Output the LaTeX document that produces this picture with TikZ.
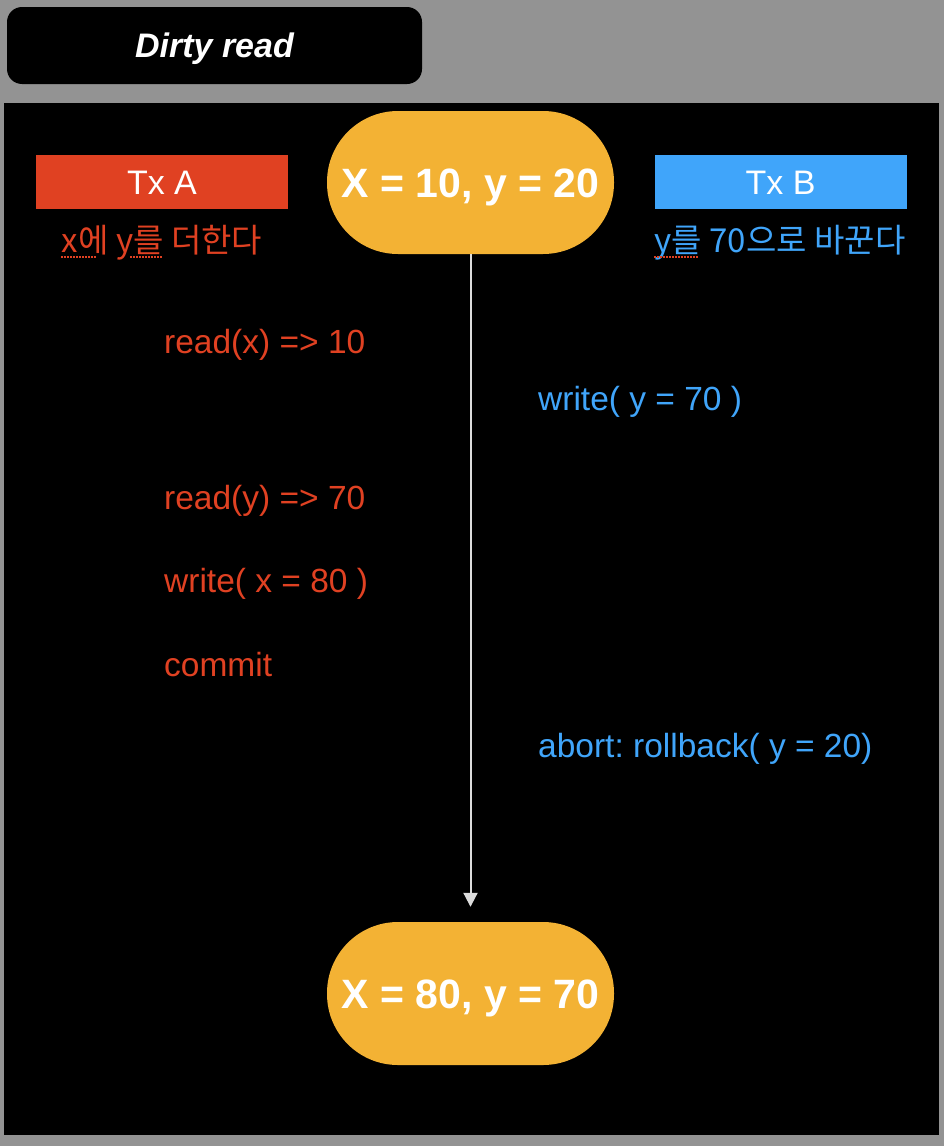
\documentclass[tikz,border=0pt]{standalone}
\usepackage{fontspec}
\setmainfont{Liberation Sans}
\newfontfamily\kr{Noto Sans CJK KR}
\usetikzlibrary{arrows.meta}
\frenchspacing
\definecolor{bggray}{RGB}{147,147,147}
\definecolor{txred}{RGB}{224,65,34}
\definecolor{txblue}{RGB}{64,165,250}
\definecolor{stateorange}{RGB}{243,178,52}
\definecolor{arrowgray}{RGB}{220,220,220}
\tikzset{
  statebox/.style={fill=stateorange, rounded corners=71pt, minimum width=287pt, minimum height=143pt, inner sep=0pt, text height=29.5pt, text depth=0pt, text=white, font=\fontsize{41}{41}\selectfont\bfseries},
  txhead/.style={minimum width=252pt, minimum height=54pt, inner sep=0pt, text height=24.5pt, text depth=0pt, text=white, font=\fontsize{34}{34}\selectfont},
  txsub/.style={anchor=base, inner sep=0pt, font=\kr\fontsize{33}{33}\selectfont},
  opA/.style={anchor=base west, inner sep=0pt, text=txred, font=\fontsize{33.5}{33.5}\selectfont},
  opB/.style={anchor=base west, inner sep=0pt, text=txblue, font=\fontsize{33.5}{33.5}\selectfont},
  spell/.style={draw=txred, line width=1.2pt, dash pattern=on 1.5pt off 1.5pt},
  flow/.style={draw=arrowgray, line width=2pt, -{Triangle[width=14pt,length=14pt]}}
}
\begin{document}
\begin{tikzpicture}[x=1pt,y=-1pt]
  \fill[bggray] (0,0) rectangle (944,1146);
  \useasboundingbox (0,0) rectangle (944,1146);
  % title
  \node[fill=black, rounded corners=15pt, minimum width=415pt, minimum height=77pt, inner sep=0pt,
        text height=24pt, text depth=0pt,
        text=white, font=\fontsize{34}{34}\selectfont\bfseries\itshape] (title) at (214.5,45.5) {Dirty read};
  % main panel
  \fill[black] (4,103) rectangle (939,1135);
  % transaction headers
  \node[txhead, fill=txred] (txa) at (162,182) {Tx A};
  \node[txhead, fill=txblue] (txb) at (780.5,182) {Tx B};
  \node[txsub, text=txred] (suba) at (162,252) {x에 y를 더한다};
  \node[txsub, text=txblue] (subb) at (780,252) {y를 70으로 바꾼다};
  \draw[spell] (61,257) -- (96,257);
  \draw[spell] (130,257) -- (163,257);
  \draw[spell] (654,257) -- (698,257);
  % states
  \node[statebox] (s0) at (470.5,182.5) {X = 10, y = 20};
  \node[statebox] (s1) at (470.5,993.5) {X = 80, y = 70};
  \draw[flow] (s0.south) -- ([yshift=15pt]s1.north);
  % operations
  \node[opA] (a1) at (164,353) {read(x) => 10};
  \node[opB] (b1) at (538,410) {write( y = 70 )};
  \node[opA] (a2) at (164,509) {read(y) => 70};
  \node[opA] (a3) at (164,592) {write( x = 80 )};
  \node[opA] (a4) at (164,676) {commit};
  \node[opB] (b2) at (538,757) {abort: rollback( y = 20)};
\end{tikzpicture}
\end{document}
